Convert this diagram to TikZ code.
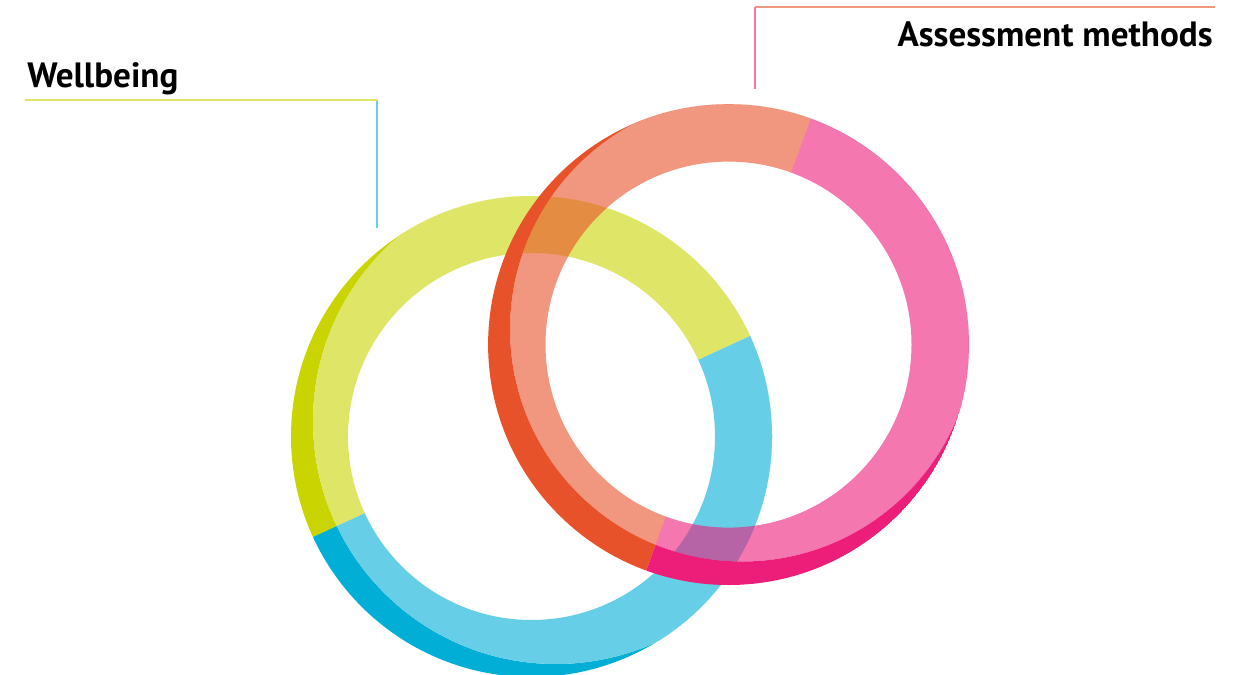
\documentclass[tikz,border=0pt]{standalone}
\usepackage{fontspec}
\setmainfont{PT Sans}

\definecolor{wellyellow}{HTML}{CAD400}
\definecolor{wellcyan}{HTML}{00AED6}
\definecolor{assessred}{HTML}{E8522A}
\definecolor{assesspink}{HTML}{EC1E79}

\begin{document}
\begin{tikzpicture}[x=0.02cm, y=-0.02cm,
    title/.style ={font=\bfseries\fontsize{20}{24}\selectfont, inner sep=0pt},
    leader/.style={line width=1.15pt}]
   \useasboundingbox (0,0) rectangle (1246,675);

   % hole = rim centre, face is shifted up-right
   \coordinate (hole1) at (531.5,436.5);
   \coordinate (face1) at (555.7,421.3);
   \coordinate (hole2) at (728.5,344.6);
   \coordinate (face2) at (742.4,329.1);

   % wellbeing ring, yellow half
   \begin{scope}
     \clip[shift={(hole1)}, rotate=24.7] (-300,0) rectangle (300,-300);
     \clip (hole1) circle (240.5);
     \fill[wellyellow, even odd rule] (hole1) circle (240.5) (face1) circle (242.7);
     \fill[wellyellow!60, even odd rule] (face1) circle (242.7) (hole1) circle (183.5);
   \end{scope}
   % wellbeing ring, cyan half
   \begin{scope}
     \clip[shift={(hole1)}, rotate=24.7] (-300,0) rectangle (300,300);
     \clip (hole1) circle (240.5);
     \fill[wellcyan, even odd rule] (hole1) circle (240.5) (face1) circle (242.7);
     \fill[wellcyan!60, even odd rule] (face1) circle (242.7) (hole1) circle (183.5);
   \end{scope}

   % assessment ring, red half (see-through face)
   \begin{scope}
     \clip[shift={(hole2)}, rotate=70] (-300,0) rectangle (300,-300);
     \clip (hole2) circle (240.4);
     \fill[assessred, fill opacity=0.6, even odd rule] (face2) circle (232.4) (hole2) circle (183);
     \fill[assessred, even odd rule] (hole2) circle (240.4) (face2) circle (232.4);
   \end{scope}
   % assessment ring, pink half
   \begin{scope}
     \clip[shift={(hole2)}, rotate=70] (-300,0) rectangle (300,300);
     \clip (hole2) circle (240.4);
     \fill[assesspink, fill opacity=0.6, even odd rule] (face2) circle (232.4) (hole2) circle (183);
     \fill[assesspink, even odd rule] (hole2) circle (240.4) (face2) circle (232.4);
   \end{scope}

   % labels
   \node[title, anchor=base west] (wellbeing) at (27,88) {Wellbeing};
   \node[title, anchor=base east] (assessment) at (1213,47) {Assessment methods};

   \coordinate (wb-start) at (25,100);
   \coordinate (wb-bend) at (377,100);
   \coordinate (wb-end) at (377,228);
   \coordinate (am-start) at (1215,7);
   \coordinate (am-bend) at (755,7);
   \coordinate (am-end) at (755,89);

   \draw[leader, wellcyan!60] (wb-bend) to (wb-end);
   \draw[leader, wellyellow!60] (wb-start) to (wb-bend);
   \draw[leader, assesspink!60] (am-bend) to (am-end);
   \draw[leader, assessred!60] (am-start) to (am-bend);

\end{tikzpicture}
\end{document}
